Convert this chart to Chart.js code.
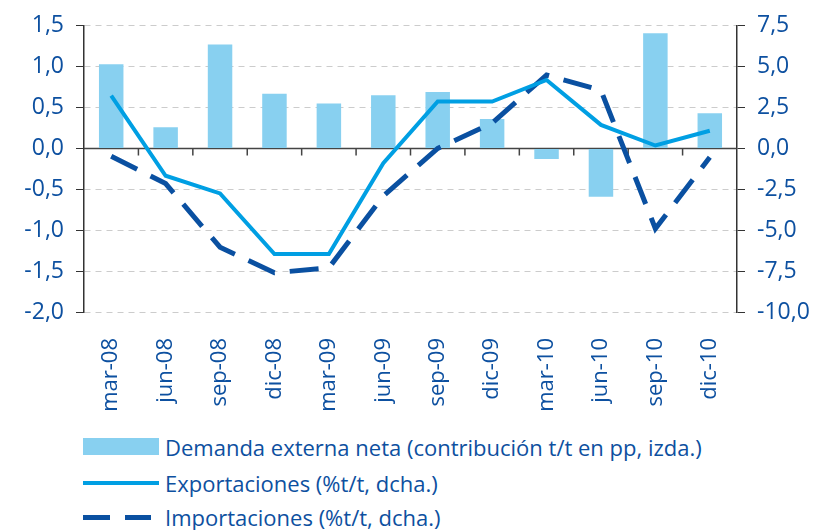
<!DOCTYPE html>
<html>
<head>
<meta charset="utf-8">
<script src="https://cdn.jsdelivr.net/npm/chart.js@4.4.0/dist/chart.umd.min.js"></script>
<style>
  body { margin: 0; background: #fff; font-family: "Open Sans", sans-serif; }
  #wrap { position: relative; width: 814px; height: 530px; }
  #chartBox { position: absolute; left: 0; top: 0; width: 814px; height: 425px; }
  .legend { position: absolute; left: 83px; color: #0d50a0; font-size: 22px; }
  .row { position: absolute; left: 0; height: 30px; white-space: nowrap; }
  .row span.txt { position: absolute; left: 82px; top: 0; line-height: 30px; }
  .sw { position: absolute; left: 0; }
</style>
</head>
<body>
<div id="wrap">
  <div id="chartBox"><canvas id="chart"></canvas></div>
  <div class="legend">
    <div class="row" style="top:432px">
      <div class="sw" style="top:6px;width:76px;height:17px;background:#88d0f0"></div>
      <span class="txt">Demanda externa neta (contribución t/t en pp, izda.)</span>
    </div>
    <div class="row" style="top:468px">
      <div class="sw" style="top:13px;width:76px;height:4px;background:#009fe3"></div>
      <span class="txt">Exportaciones (%t/t, dcha.)</span>
    </div>
    <div class="row" style="top:502px">
      <div class="sw" style="top:13px;width:27px;height:5px;background:#0a50a1"></div>
      <div class="sw" style="top:13px;left:42px;width:26px;height:5px;background:#0a50a1"></div>
      <span class="txt">Importaciones (%t/t, dcha.)</span>
    </div>
  </div>
</div>
<script>
const categories = ['mar-08', 'jun-08', 'sep-08', 'dic-08', 'mar-09', 'jun-09', 'sep-09', 'dic-09', 'mar-10', 'jun-10', 'sep-10', 'dic-10'];
const demandaExterna = [1.03, 0.26, 1.27, 0.67, 0.55, 0.65, 0.69, 0.36, -0.13, -0.59, 1.41, 0.43];
const exportaciones = [3.23, -1.67, -2.75, -6.46, -6.46, -0.9, 2.87, 2.87, 4.19, 1.44, 0.18, 1.08];
const importaciones = [-0.48, -2.15, -6.04, -7.6, -7.3, -2.9, 0.0, 1.55, 4.49, 3.55, -4.9, -0.54];
const leftTicks = [-2.0, -1.5, -1.0, -0.5, 0.0, 0.5, 1.0, 1.5];
const rightTicks = [-10.0, -7.5, -5.0, -2.5, 0.0, 2.5, 5.0, 7.5];

const textColor = '#0d50a0';
const fmt = v => v.toFixed(1).replace('.', ',');

// zero line with category ticks
const zeroLine = {
  id: 'zeroLine',
  beforeDatasetsDraw(chart) {
    const { ctx, chartArea, scales: { x, y } } = chart;
    const py = y.getPixelForValue(0);
    ctx.save();
    ctx.strokeStyle = '#444';
    ctx.lineWidth = 1.5;
    ctx.beginPath();
    ctx.moveTo(chartArea.left, py);
    ctx.lineTo(chartArea.right, py);
    for (let i = 1; i < categories.length; i++) {
      const px = (x.getPixelForValue(i - 1) + x.getPixelForValue(i)) / 2;
      ctx.moveTo(px, py);
      ctx.lineTo(px, py + 7);
    }
    ctx.stroke();
    ctx.restore();
  }
};

document.addEventListener('DOMContentLoaded', function() {
  const ctx = document.getElementById('chart').getContext('2d');
  new Chart(ctx, {
    data: {
      labels: categories,
      datasets: [
        {
          type: 'line',
          label: 'Exportaciones (%t/t, dcha.)',
          data: exportaciones,
          yAxisID: 'y1',
          borderColor: '#009fe3',
          borderWidth: 4,
          pointRadius: 0,
          tension: 0,
          order: 0
        },
        {
          type: 'line',
          label: 'Importaciones (%t/t, dcha.)',
          data: importaciones,
          yAxisID: 'y1',
          borderColor: '#0a50a1',
          borderWidth: 5,
          borderDash: [29, 15],
          pointRadius: 0,
          tension: 0,
          order: 1
        },
        {
          type: 'bar',
          label: 'Demanda externa neta (contribución t/t en pp, izda.)',
          data: demandaExterna,
          yAxisID: 'y',
          backgroundColor: '#88d0f0',
          categoryPercentage: 1,
          barPercentage: 0.45,
          order: 2
        }
      ]
    },
    options: {
      responsive: true,
      maintainAspectRatio: false,
      animation: false,
      layout: { padding: { top: 6, left: 0, right: 0, bottom: 0 } },
      plugins: {
        legend: { display: false },
        tooltip: { enabled: false }
      },
      scales: {
        x: {
          grid: { display: false },
          border: { display: false },
          ticks: {
            color: textColor,
            font: { family: 'Open Sans', size: 22 },
            minRotation: 90,
            maxRotation: 90,
            padding: 18
          },
          afterFit(scale) { scale.height = 113; }
        },
        y: {
          position: 'left',
          min: -2,
          max: 1.5,
          afterBuildTicks(scale) { scale.ticks = leftTicks.map(v => ({ value: v })); },
          grid: { color: '#cccccc', tickColor: '#333', tickLength: 8, lineWidth: 1 },
          border: { color: '#333', width: 1.5, dash: [6, 5] },
          ticks: {
            color: textColor,
            font: { family: 'Open Sans', size: 23 },
            padding: 12,
            callback: v => fmt(v)
          },
          afterFit(scale) { scale.width = 84; }
        },
        y1: {
          position: 'right',
          min: -10,
          max: 7.5,
          afterBuildTicks(scale) { scale.ticks = rightTicks.map(v => ({ value: v })); },
          grid: { drawOnChartArea: false, tickColor: '#333', tickLength: 8 },
          border: { color: '#333', width: 1.5 },
          ticks: {
            color: textColor,
            font: { family: 'Open Sans', size: 23 },
            padding: 12,
            callback: v => fmt(v)
          },
          afterFit(scale) { scale.width = 77; }
        }
      }
    },
    plugins: [zeroLine]
  });
});
</script>
</body>
</html>
